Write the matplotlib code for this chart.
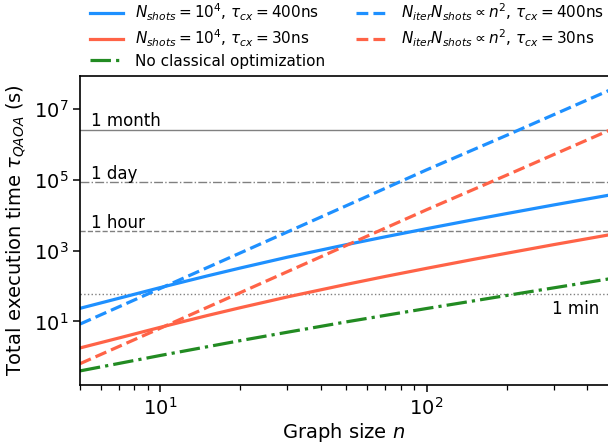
import numpy as np
import matplotlib
matplotlib.use("Agg")
import matplotlib.pyplot as plt
from matplotlib.ticker import FixedLocator, NullLocator, LogFormatterSciNotation

n_full = [5, 7, 10, 15, 20, 30, 50, 70, 100, 150, 200, 300, 500]
n_line = [5, 10, 20, 50, 100, 200, 500]

# total execution time (s)
t_400 = [23.4, 45, 90, 192, 322, 649, 1470, 2450, 4150, 7430, 11100, 19400, 38300]
t_30 = [1.78, 3.4, 6.8, 14.6, 24.4, 49, 111, 186, 315, 564, 841, 1470, 2900]
t_noopt = [0.40, 0.65, 1.09, 1.92, 2.87, 4.94, 9.7, 14.8, 23.1, 37.9, 54, 88.5, 165]
t_n2_400 = [8.4, 85, 860, 18500, 1.9e5, 1.8e6, 3.7e7]
t_n2_30 = [0.64, 6.4, 65, 1400, 14200, 1.35e5, 2.75e6]

# reference times
ref_vals = [60, 3600, 86400, 2592000]
ref_names = ["1 min", "1 hour", "1 day", "1 month"]
ref_styles = [":", "--", "-.", "-"]

blue = "#1E90FF"
red = "#FF6347"
green = "#228B22"

fig = plt.figure(figsize=(6.08, 4.48), dpi=100)
ax = fig.add_axes([80 / 608, 1 - 385 / 448, 528 / 608, 309 / 448])

l1, = ax.plot(n_full, t_400, color=blue, lw=2.3, label=r"$N_{shots}=10^4$, $\tau_{cx}=400$ns")
l2, = ax.plot(n_full, t_30, color=red, lw=2.3, label=r"$N_{shots}=10^4$, $\tau_{cx}=30$ns")
l3, = ax.plot(n_full, t_noopt, color=green, lw=2.3, ls="-.", label="No classical optimization")
l4, = ax.plot(n_line, t_n2_400, color=blue, lw=2.3, ls="--",
              label=r"$N_{iter}N_{shots}\propto n^2$, $\tau_{cx}=400$ns")
l5, = ax.plot(n_line, t_n2_30, color=red, lw=2.3, ls="--",
              label=r"$N_{iter}N_{shots}\propto n^2$, $\tau_{cx}=30$ns")

for v, name, ls in zip(ref_vals, ref_names, ref_styles):
    ax.axhline(v, color="grey", lw=1, ls=ls, zorder=0)
    if name == "1 min":
        ax.text(445, v / 1.45, name, fontsize=12, ha="right", va="top")
    else:
        ax.text(5.5, v * 1.24, name, fontsize=12, ha="left", va="baseline")

ax.set_xscale("log")
ax.set_yscale("log")
ax.set_xlim(5, 480)
ax.set_ylim(0.16, 8.5e7)

ax.yaxis.set_major_locator(FixedLocator([1e1, 1e3, 1e5, 1e7]))
ax.yaxis.set_major_formatter(LogFormatterSciNotation())
ax.yaxis.set_minor_locator(NullLocator())
ax.tick_params(labelsize=14, which="major", length=5, width=1.1)
ax.tick_params(which="minor", length=3.5, width=0.9)
ax.spines["right"].set_visible(False)
for s in ["left", "bottom", "top"]:
    ax.spines[s].set_linewidth(1.2)

ax.set_xlabel(r"Graph size $n$", fontsize=14, labelpad=2)
ax.set_ylabel(r"Total execution time $\tau_{QAOA}$ (s)", fontsize=14, labelpad=4)

fig.legend(handles=[l1, l2, l3, l4, l5], ncol=2, frameon=False, fontsize=11,
           loc="upper left", bbox_to_anchor=(84 / 608, 1.01), borderaxespad=0,
           handlelength=2.15, columnspacing=2.0, labelspacing=0.3)

fig.savefig("out.png", dpi=100)
